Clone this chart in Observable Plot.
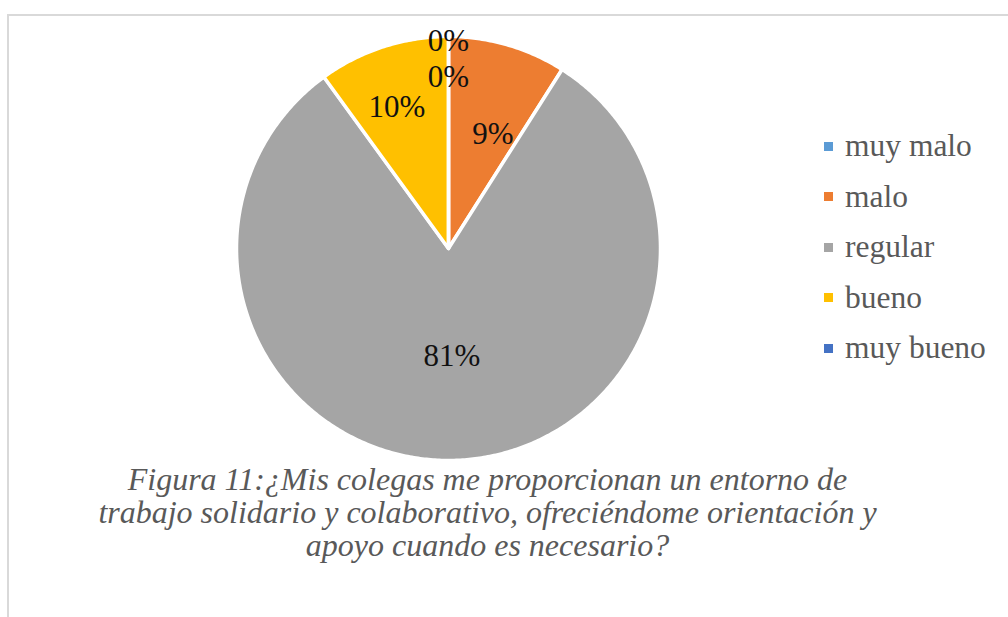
<!DOCTYPE html>
<html>
<head>
<meta charset="utf-8">
<script src="https://cdn.jsdelivr.net/npm/d3@7"></script>
<script src="https://cdn.jsdelivr.net/npm/@observablehq/plot@0.6"></script>
<style>
  html, body { margin: 0; padding: 0; background: #fff; }
  #root { position: relative; width: 1008px; height: 617px; overflow: hidden; }
  #frame { position: absolute; left: 7px; top: 14px; width: 1100px; height: 700px;
           border-top: 2px solid #d9d9d9; border-left: 2px solid #d9d9d9; box-sizing: border-box; }
  #chart { position: absolute; left: 0; top: 0; }
  #legend { position: absolute; left: 824px; top: 121px; font-family: "Liberation Serif", "Times New Roman", serif;
            font-size: 31.5px; color: #595959; }
  .row { height: 50.5px; display: flex; align-items: center; }
  .sw { width: 9px; height: 9px; margin-right: 12px; flex: none; }
  #caption { position: absolute; left: 0; width: 975px; top: 463px; text-align: center;
             font-family: "Liberation Serif", "Times New Roman", serif; font-style: italic;
             font-size: 32px; line-height: 33px; color: #595959; }
</style>
</head>
<body>
<div id="root">
  <div id="frame"></div>
  <div id="chart"></div>
  <div id="legend"></div>
  <div id="caption"></div>
</div>
<script>
// ---- data ----
const categories = ["muy malo", "malo", "regular", "bueno", "muy bueno"];
const percents = [0, 9, 81, 10, 0];
const colors = ["#5B9BD5", "#ED7D31", "#A5A5A5", "#FFC000", "#4472C4"];
const labels = ["0%", "9%", "81%", "10%", "0%"];
const captionLines = [
  "Figura 11:¿Mis colegas me proporcionan un entorno de",
  "trabajo solidario y colaborativo, ofreciéndome orientación y",
  "apoyo cuando es necesario?"
];
// label distance from centre, as a fraction of the radius (layout)
const labelRadius = [0.98, 0.58, 0.51, 0.71, 0.81];
// extra angular shift of each label, in degrees (layout)
const labelTurn = [0, 5, 0, -2, 0];

// ---- geometry from data ----
const arcs = d3.pie().sort(null).value(d => d.value)(
  categories.map((c, i) => ({key: c, value: percents[i]}))
);
const polys = [];
arcs.forEach(a => {
  const key = a.data.key;
  polys.push({key, x: 0, y: 0});
  const n = Math.max(2, Math.ceil((a.endAngle - a.startAngle) / 0.01));
  for (let k = 0; k <= n; k++) {
    const t = a.startAngle + (a.endAngle - a.startAngle) * k / n;
    polys.push({key, x: Math.sin(t), y: Math.cos(t)});
  }
  polys.push({key, x: 0, y: 0});
});
const labelPts = arcs.map((a, i) => {
  const m = (a.startAngle + a.endAngle) / 2 + labelTurn[i] * Math.PI / 180;
  return {text: labels[i], x: labelRadius[i] * Math.sin(m), y: labelRadius[i] * Math.cos(m)};
});

const R = 212;
const cx = 448, cy = 248, H = 470, W = 1008;
const chart = Plot.plot({
  width: W, height: H,
  marginLeft: cx - R, marginRight: W - (cx + R),
  marginTop: cy - R, marginBottom: H - (cy + R),
  x: {domain: [-1, 1], axis: null},
  y: {domain: [-1, 1], axis: null},
  color: {domain: categories, range: colors},
  style: {background: "transparent", overflow: "visible"},
  marks: [
    Plot.line(polys, {x: "x", y: "y", z: "key", fill: "key", stroke: "white", strokeWidth: 3.5, strokeLinejoin: "round", curve: "linear"}),
    Plot.text(labelPts, {x: "x", y: "y", text: "text", fontSize: 31, fontFamily: "Liberation Serif", fill: "#111"})
  ]
});
document.getElementById("chart").appendChild(chart);

const legend = document.getElementById("legend");
categories.forEach((c, i) => {
  const row = document.createElement("div");
  row.className = "row";
  const sw = document.createElement("span");
  sw.className = "sw";
  sw.style.background = colors[i];
  const tx = document.createElement("span");
  tx.textContent = c;
  row.appendChild(sw); row.appendChild(tx);
  legend.appendChild(row);
});
const cap = document.getElementById("caption");
captionLines.forEach(l => { const d = document.createElement("div"); d.textContent = l; cap.appendChild(d); });
</script>
</body>
</html>
